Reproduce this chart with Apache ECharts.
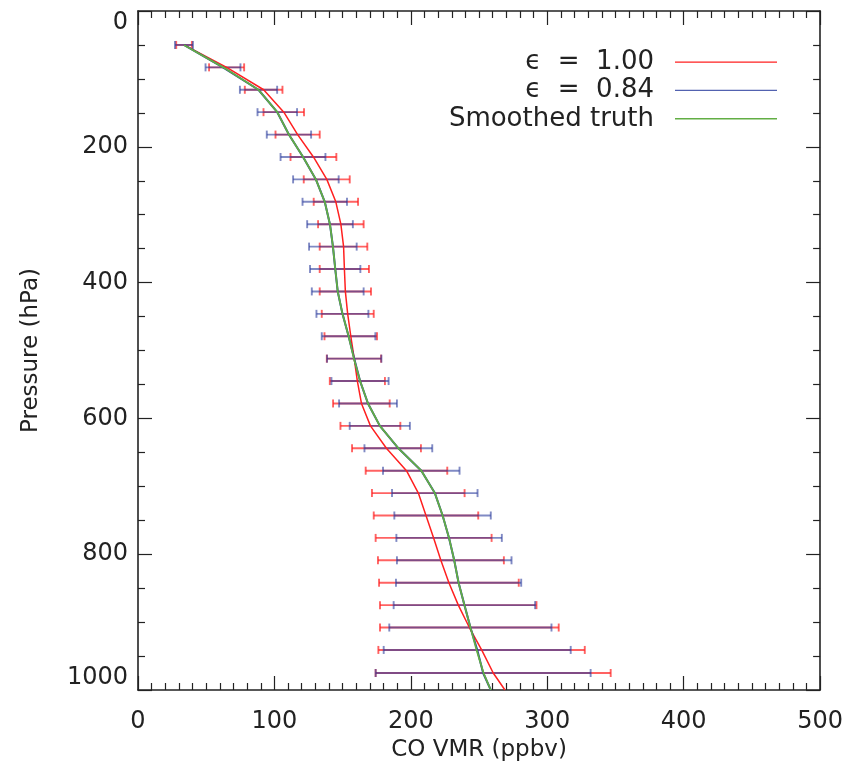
<!DOCTYPE html>
<html>
<head>
<meta charset="utf-8">
<script src="https://cdn.jsdelivr.net/npm/echarts@6/dist/echarts.min.js"></script>
<style>
  html, body { margin: 0; padding: 0; background: #fff; }
  #chart { width: 846px; height: 778px; }
</style>
</head>
<body>
<div id="chart"></div>
<script>
// Retrieval levels (hPa) where error bars are drawn
const levels = [50, 83, 116, 149, 182, 215, 248, 281, 314, 347, 380, 413, 446, 479, 512,
                545, 578, 611, 644, 677, 710, 743, 776, 809, 842, 875, 908, 941, 975];

// Error bar ranges (ppbv), epsilon = 1.00
const redLo = [28, 52.1, 78.3, 92, 100.8, 111.8, 121.5, 128.8, 132, 133.2, 133.2, 133.2, 134.7, 136.7, 138.4,
               140.6, 143, 148.4, 156.9, 166.9, 171.5, 172.8, 174.2, 175.9, 176.7, 177.4, 177.4, 176.2, 174.2];
const redHi = [39.5, 77.8, 105.9, 121.7, 133.2, 145.4, 155.2, 161.3, 165.4, 168.1, 169.3, 170.8, 172.8, 175.2, 178.2,
               181, 184.5, 192.3, 207.4, 226.7, 239.4, 249.4, 259.2, 268.2, 279.1, 292.1, 308.4, 327.5, 346.5];

// Error bar ranges (ppbv), epsilon = 0.84
const blueLo = [27.1, 49.5, 74.7, 87.6, 94.4, 104.5, 113.7, 120.6, 124, 125.4, 126.1, 127.4, 130.8, 134.7, 138.6,
                141.8, 147.4, 155.2, 166, 179.6, 186.2, 187.9, 189.4, 189.8, 189.1, 187.4, 184.2, 180.1, 174.2];
const blueHi = [40.3, 75.1, 102, 116.6, 126.9, 137.4, 147.1, 153.2, 157.5, 160.3, 163, 165.4, 168.9, 174, 178.4,
                183.7, 189.8, 199.3, 215.7, 235.7, 248.9, 258.6, 266.7, 273.8, 280.9, 291.1, 303.1, 317.2, 331.8];

// Profile pressures (levels plus surface) and retrieved / true CO profiles (ppbv)
const profileLevels = levels.concat([1000]);
const redProfile = [33.7, 65, 92.1, 106.9, 117, 128.6, 138.4, 145, 148.7, 150.7, 151.3, 152, 153.7, 156, 158.5,
                    160.8, 163.8, 170.4, 182.1, 196.8, 205.5, 211.1, 216.7, 222, 227.9, 234.8, 242.9, 251.9, 260.4, 269];
const blueProfile = [33.7, 62.3, 88.3, 102.1, 110.6, 121, 130.4, 136.9, 140.7, 142.9, 144.6, 146.4, 149.9, 154.4, 158.5,
                     162.8, 168.6, 177.3, 190.9, 207.7, 217.6, 223.3, 228, 231.8, 235, 239.3, 243.7, 248.7, 253, 258.6];
const truthProfile = [33.7, 62.5, 88.3, 102.1, 110.6, 121, 130.4, 136.9, 140.7, 142.9, 144.6, 146.4, 149.9, 154.4, 158.3,
                      162.8, 168.6, 177.3, 190.9, 207.7, 217.6, 223.3, 228, 231.8, 235, 239.3, 243.7, 248.2, 253.3, 258.6];

const xTicks = [0, 100, 200, 300, 400, 500];
const yTicks = [0, 200, 400, 600, 800, 1000];

// Series names as shown in the legend
const NAME_E100 = 'ϵ  =  1.00';
const NAME_E084 = 'ϵ  =  0.84';
const NAME_TRUTH = 'Smoothed truth';

const FONT = "'DejaVu Sans', 'Liberation Sans', sans-serif";
const INK = '#222';
const RED = '#ff2020';
const BLUE = '#2c3c9c';
const GREEN = '#62ae44';

const chart = echarts.init(document.getElementById('chart'), null, { renderer: 'canvas' });

function pairs(xs) { return xs.map((v, i) => [v, profileLevels[i]]); }
function bars(lo, hi) { return levels.map((p, i) => [p, lo[i], hi[i]]); }

function errorBarRenderer(color, opacity) {
  return function (params, api) {
    const p = api.value(0), lo = api.value(1), hi = api.value(2);
    const a = api.coord([lo, p]);
    const b = api.coord([hi, p]);
    const cap = 4;
    const style = { stroke: color, lineWidth: 1.9, opacity: opacity };
    return {
      type: 'group',
      children: [
        { type: 'line', shape: { x1: a[0], y1: a[1], x2: b[0], y2: b[1] }, style: style },
        { type: 'line', shape: { x1: a[0], y1: a[1] - cap, x2: a[0], y2: a[1] + cap }, style: style },
        { type: 'line', shape: { x1: b[0], y1: b[1] - cap, x2: b[0], y2: b[1] + cap }, style: style }
      ]
    };
  };
}

function mirrorAxis(base) {
  return Object.assign({}, base, {
    axisLabel: { show: false },
    name: ''
  });
}

const axisLine = { show: true, onZero: false, lineStyle: { color: INK, width: 1.6 } };
const labelStyle = { color: INK, fontFamily: FONT, fontSize: 24 };

const xBase = {
  type: 'value', min: 0, max: 500, interval: 100,
  axisLine: axisLine,
  axisTick: { show: true, inside: true, length: 14, lineStyle: { color: INK, width: 1.2 } },
  minorTick: { show: true, splitNumber: 10, length: 7, lineStyle: { color: INK, width: 1.2 } },
  splitLine: { show: false }
};
const yBase = {
  type: 'value', min: 0, max: 1000, interval: 200, inverse: true,
  axisLine: axisLine,
  axisTick: { show: true, inside: true, length: 14, lineStyle: { color: INK, width: 1.2 } },
  minorTick: { show: true, splitNumber: 4, length: 7, lineStyle: { color: INK, width: 1.2 } },
  splitLine: { show: false }
};

const option = {
  animation: false,
  backgroundColor: '#fff',
  grid: { left: 138, right: 25, top: 11, bottom: 88, containLabel: false },
  xAxis: [
    Object.assign({}, xBase, {
      position: 'bottom',
      name: 'CO VMR (ppbv)', nameLocation: 'middle', nameGap: 45,
      nameTextStyle: { color: INK, fontFamily: FONT, fontSize: 23 },
      axisLabel: Object.assign({}, labelStyle, {
        margin: 20,
        formatter: v => xTicks.includes(v) ? String(v) : ''
      })
    }),
    Object.assign(mirrorAxis(xBase), { position: 'top' })
  ],
  yAxis: [
    Object.assign({}, yBase, {
      position: 'left',
      name: 'Pressure (hPa)', nameLocation: 'middle', nameGap: 95, nameRotate: 90,
      nameTextStyle: { color: INK, fontFamily: FONT, fontSize: 23 },
      axisLabel: Object.assign({}, labelStyle, {
        margin: 10,
        verticalAlignMinLabel: 'top',
        verticalAlignMaxLabel: 'bottom',
        formatter: v => yTicks.includes(v) ? String(v) : ''
      })
    }),
    Object.assign(mirrorAxis(yBase), { position: 'right' })
  ],
  legend: {
    orient: 'vertical',
    right: 64, top: 43,
    align: 'right',
    icon: 'rect',
    itemWidth: 102, itemHeight: 1.3, itemGap: 0,
    textStyle: { color: INK, fontFamily: FONT, fontSize: 26, lineHeight: 28.3, padding: [0, 16, 0, 0] },
    data: [
      { name: NAME_E100, itemStyle: { color: RED } },
      { name: NAME_E084, itemStyle: { color: '#5262b0' } },
      { name: NAME_TRUTH, itemStyle: { color: GREEN } }
    ],
    selectedMode: false
  },
  series: [
    {
      name: 'bars 1.00', type: 'custom', xAxisIndex: 0, yAxisIndex: 0,
      renderItem: errorBarRenderer(RED, 0.7),
      encode: { x: [1, 2], y: 0 },
      data: bars(redLo, redHi), z: 2
    },
    {
      name: 'bars 0.84', type: 'custom', xAxisIndex: 0, yAxisIndex: 0,
      renderItem: errorBarRenderer(BLUE, 0.6),
      encode: { x: [1, 2], y: 0 },
      data: bars(blueLo, blueHi), z: 3
    },
    {
      name: NAME_E100, type: 'line', symbol: 'none', z: 4,
      lineStyle: { color: RED, width: 1.5 },
      itemStyle: { color: RED },
      data: pairs(redProfile)
    },
    {
      name: NAME_E084, type: 'line', symbol: 'none', z: 5,
      lineStyle: { color: BLUE, width: 2.0 },
      itemStyle: { color: BLUE },
      data: pairs(blueProfile)
    },
    {
      name: NAME_TRUTH, type: 'line', symbol: 'none', z: 6,
      lineStyle: { color: GREEN, width: 1.8 },
      itemStyle: { color: GREEN },
      data: pairs(truthProfile)
    }
  ]
};

chart.setOption(option);
</script>
</body>
</html>
